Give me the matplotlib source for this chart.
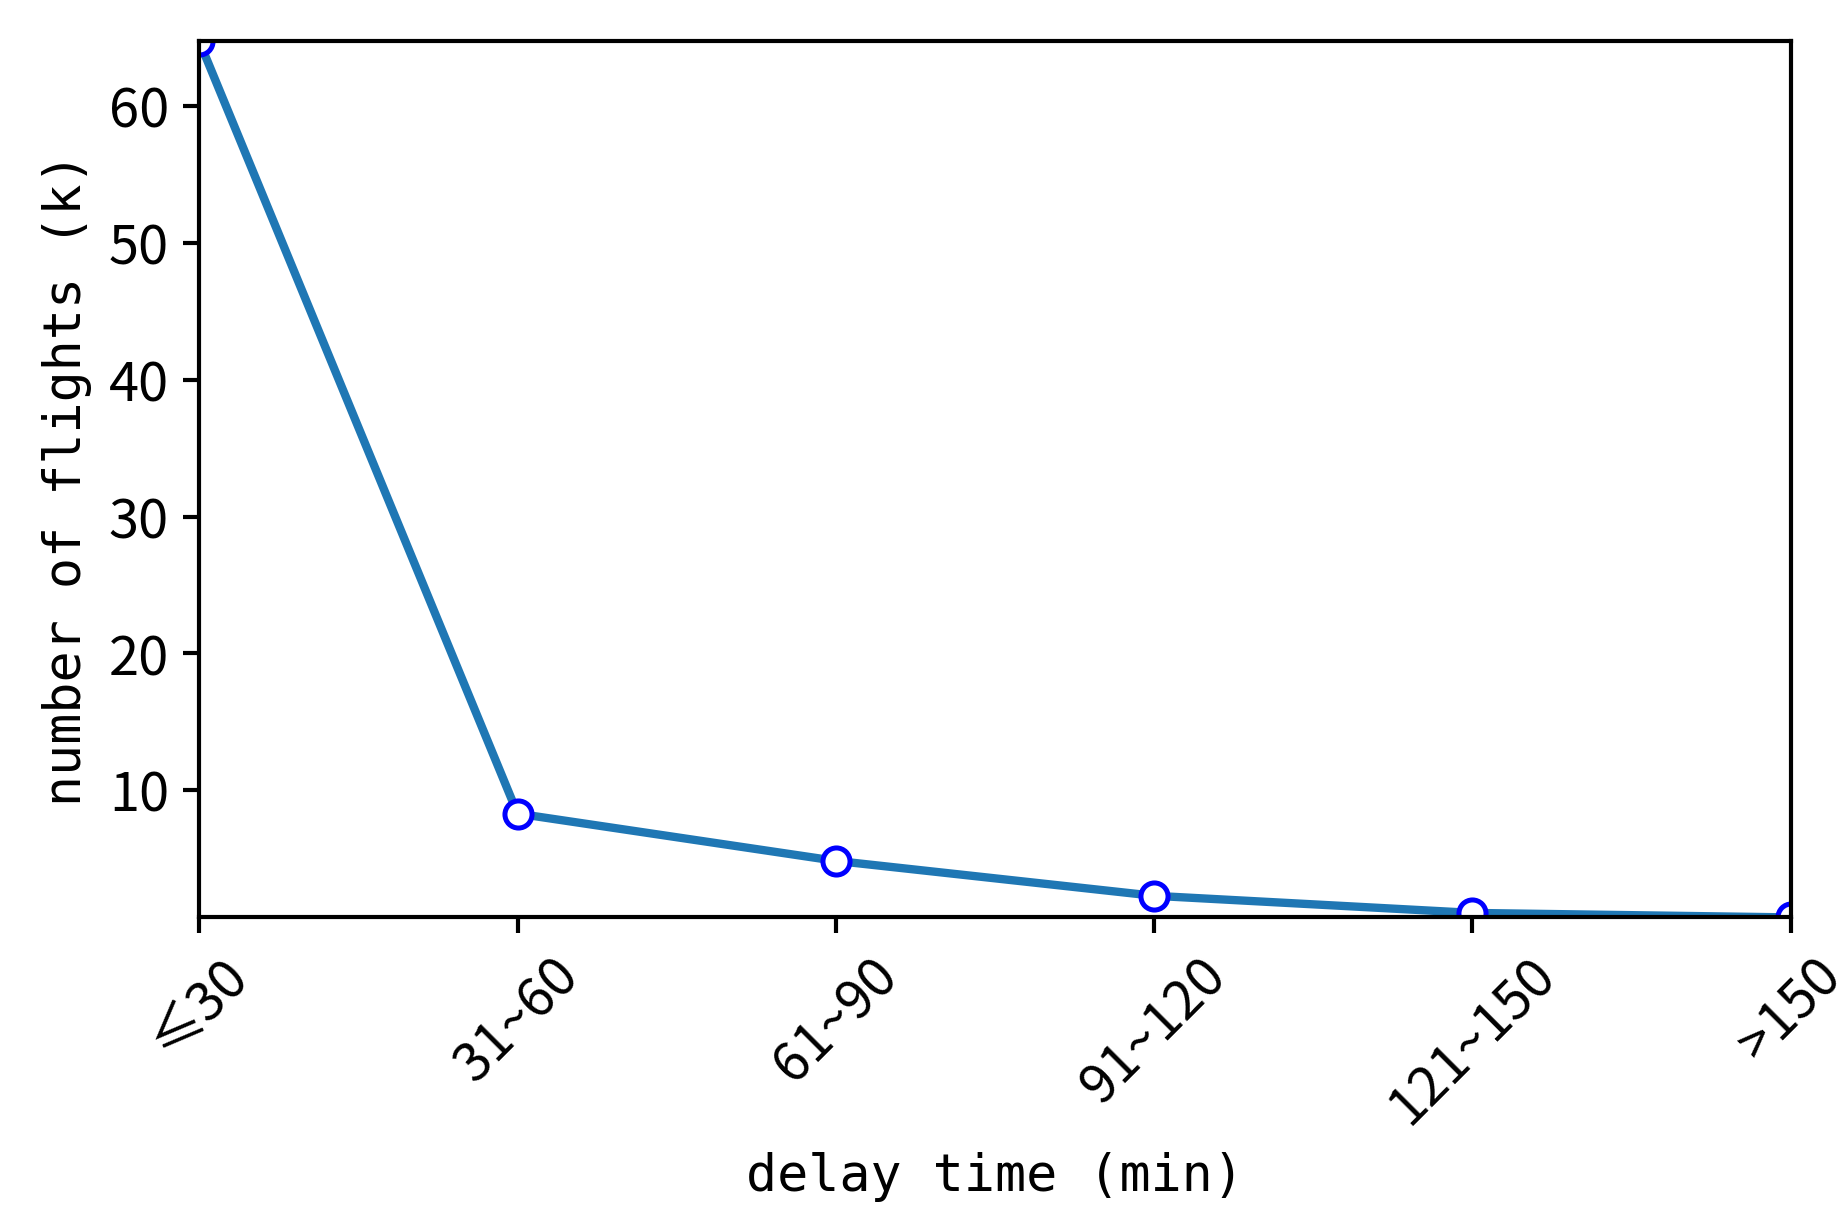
import matplotlib
matplotlib.use("Agg")
import matplotlib.pyplot as plt

plt.rcParams['font.family'] = ['Noto Sans CJK SC', 'DejaVu Sans']
plt.rcParams['axes.linewidth'] = 1.0
plt.rcParams['xtick.major.width'] = 1.0
plt.rcParams['ytick.major.width'] = 1.0
plt.rcParams['xtick.major.size'] = 3.8
plt.rcParams['ytick.major.size'] = 3.8

# delay buckets and flight counts (thousands)
delay_bins = ['≤30', '31~60', '61~90', '91~120', '121~150', '>150']
flights_k = [64.7, 8.3, 4.85, 2.3, 1.05, 0.72]

fig, ax = plt.subplots(figsize=(6.153, 4.067), dpi=300)
fig.subplots_adjust(left=0.108, right=0.970, top=0.966, bottom=0.248)

x = list(range(len(delay_bins)))
ax.plot(x, flights_k, color='#1f77b4', linewidth=2,
        marker='o', markersize=6.5, markerfacecolor='white',
        markeredgecolor='blue', markeredgewidth=1.2)

ax.set_xticks(x)
ax.set_xticklabels(delay_bins, rotation=45, fontsize=13)
ax.tick_params(axis='y', labelsize=13)
ax.set_yticks([10, 20, 30, 40, 50, 60])
ax.set_xlim(x[0], x[-1])
ax.set_ylim(min(flights_k), max(flights_k))

ax.set_xlabel('delay time (min)', family='DejaVu Sans Mono', fontsize=12.4)
ax.set_ylabel('number of flights (k)', family='DejaVu Sans Mono', fontsize=12.4)

fig.savefig('out.png', dpi=300)
